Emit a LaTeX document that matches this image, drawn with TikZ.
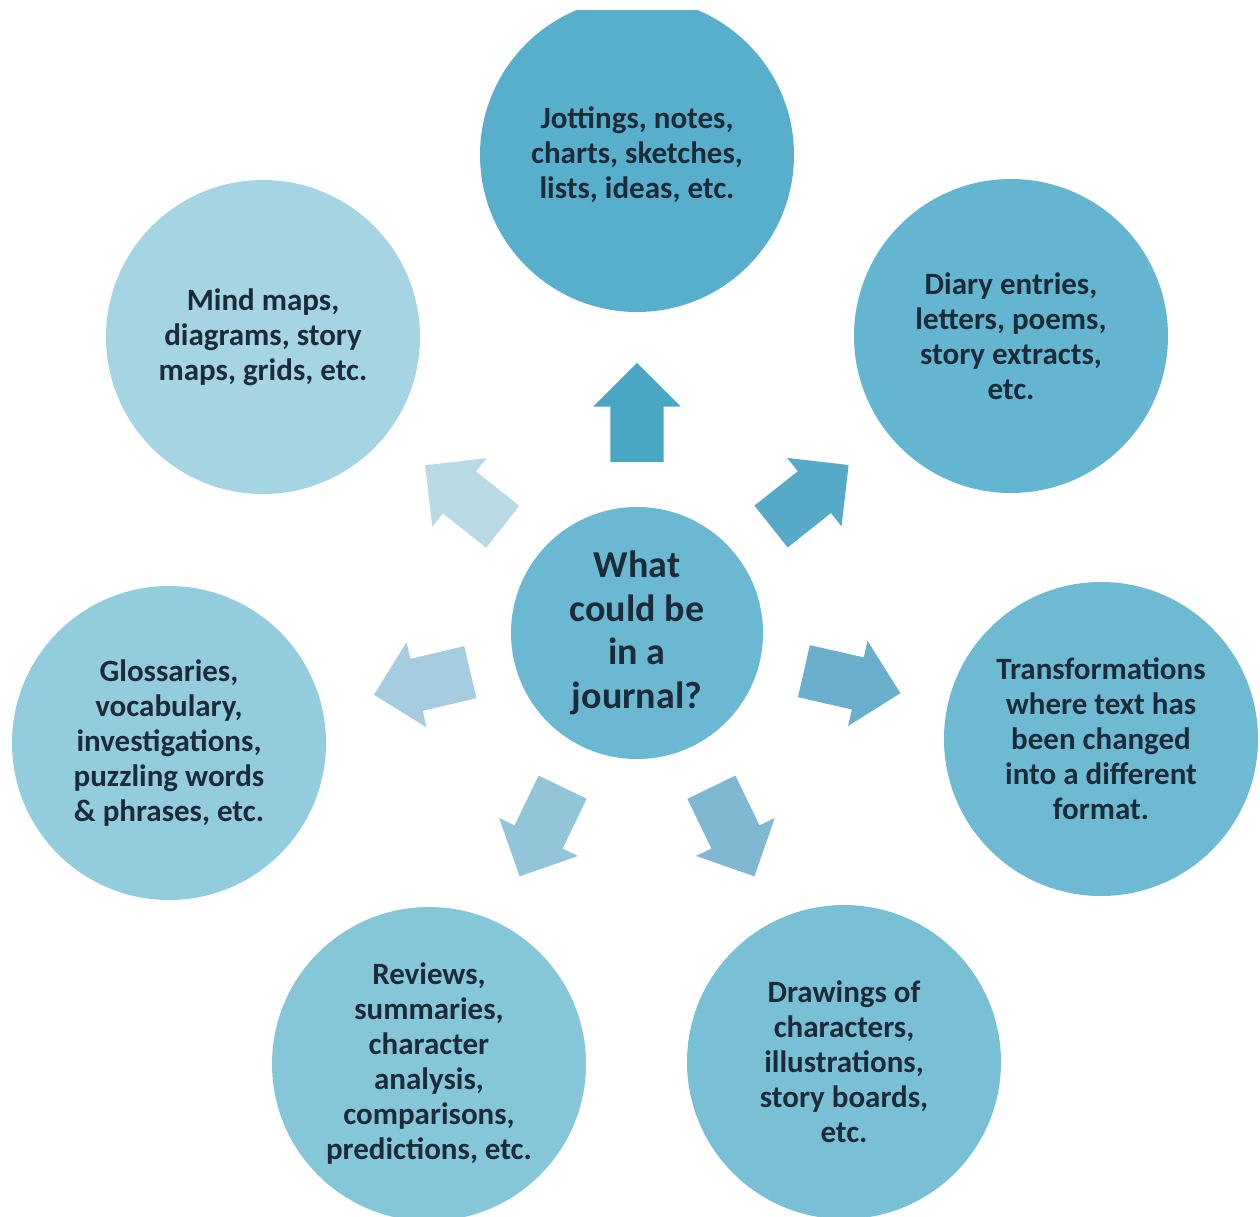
\documentclass[tikz,border=0pt]{standalone}
\usepackage{fontspec}
\setmainfont{Carlito}
\usetikzlibrary{shapes,arrows,positioning,calc}

\definecolor{inkblue}{HTML}{1C2B3A}
\definecolor{hubfill}{HTML}{6AB8D1}
\definecolor{fillA}{HTML}{58AFCC}
\definecolor{fillB}{HTML}{63B5D0}
\definecolor{fillC}{HTML}{6EBAD3}
\definecolor{fillD}{HTML}{79BFD6}
\definecolor{fillE}{HTML}{86C6D9}
\definecolor{fillF}{HTML}{93CCDD}
\definecolor{fillG}{HTML}{A5D4E3}
\definecolor{arrA}{HTML}{4AA7C4}
\definecolor{arrB}{HTML}{56AAC8}
\definecolor{arrC}{HTML}{6AAFCC}
\definecolor{arrD}{HTML}{7FB8D0}
\definecolor{arrE}{HTML}{93C5D9}
\definecolor{arrF}{HTML}{A6CDDF}
\definecolor{arrG}{HTML}{B9D9E5}

\begin{document}
\begin{tikzpicture}[x=1pt,y=1pt,on grid]
\tikzstyle{bubble}=[circle,draw=none,minimum size=314pt,inner sep=0pt,align=center,text=inkblue,font=\fontsize{31}{35}\selectfont\bfseries]
\tikzstyle{hubstyle}=[bubble,minimum size=252pt,font=\fontsize{38}{43.5}\selectfont\bfseries]
\tikzstyle{blockarrow}=[single arrow,draw=none,inner xsep=0pt,inner ysep=26.5pt,single arrow head extend=17pt,minimum height=99pt,sloped,allow upside down,anchor=tail]
\useasboundingbox (0,0) rectangle (1260,-1216);
\clip (0,-10) rectangle (1260,-1216);

\node[hubstyle,fill=hubfill] (hub) at (637,-633) {What\\could be\\in a\\journal?};
\node[bubble,fill=fillA][above=478pt of hub] (jottings) {Jottings, notes,\\charts, sketches,\\lists, ideas, etc.};
\node[bubble,fill=fillB][above right=297pt and 374pt of hub] (diary) {Diary entries,\\letters, poems,\\story extracts,\\etc.};
\node[bubble,fill=fillC][below right=106pt and 464pt of hub] (transform) {Transformations\\where text has\\been changed\\into a different\\format.};
\node[bubble,fill=fillD][below right=429pt and 207pt of hub] (drawings) {Drawings of\\characters,\\illustrations,\\story boards,\\etc.};
\node[bubble,fill=fillE][below left=431pt and 208pt of hub] (reviews) {Reviews,\\summaries,\\character\\analysis,\\comparisons,\\predictions, etc.};
\node[bubble,fill=fillF][below left=110pt and 468pt of hub] (glossary) {Glossaries,\\vocabulary,\\investigations,\\puzzling words\\\& phrases, etc.};
\node[bubble,fill=fillG][above left=296pt and 374pt of hub] (mindmaps) {Mind maps,\\diagrams, story\\maps, grids, etc.};

\path ($(hub)!171pt!(jottings)$) -- ($(hub)!270pt!(jottings)$) node[blockarrow,fill=arrA,pos=0] (toJottings) {};
\path ($(hub)!171pt!(diary)$) -- ($(hub)!270pt!(diary)$) node[blockarrow,fill=arrB,pos=0] (toDiary) {};
\path ($(hub)!171pt!(transform)$) -- ($(hub)!270pt!(transform)$) node[blockarrow,fill=arrC,pos=0] (toTransform) {};
\path ($(hub)!171pt!(drawings)$) -- ($(hub)!270pt!(drawings)$) node[blockarrow,fill=arrD,pos=0] (toDrawings) {};
\path ($(hub)!171pt!(reviews)$) -- ($(hub)!270pt!(reviews)$) node[blockarrow,fill=arrE,pos=0] (toReviews) {};
\path ($(hub)!171pt!(glossary)$) -- ($(hub)!270pt!(glossary)$) node[blockarrow,fill=arrF,pos=0] (toGlossary) {};
\path ($(hub)!171pt!(mindmaps)$) -- ($(hub)!270pt!(mindmaps)$) node[blockarrow,fill=arrG,pos=0] (toMindmaps) {};
\end{tikzpicture}
\end{document}
